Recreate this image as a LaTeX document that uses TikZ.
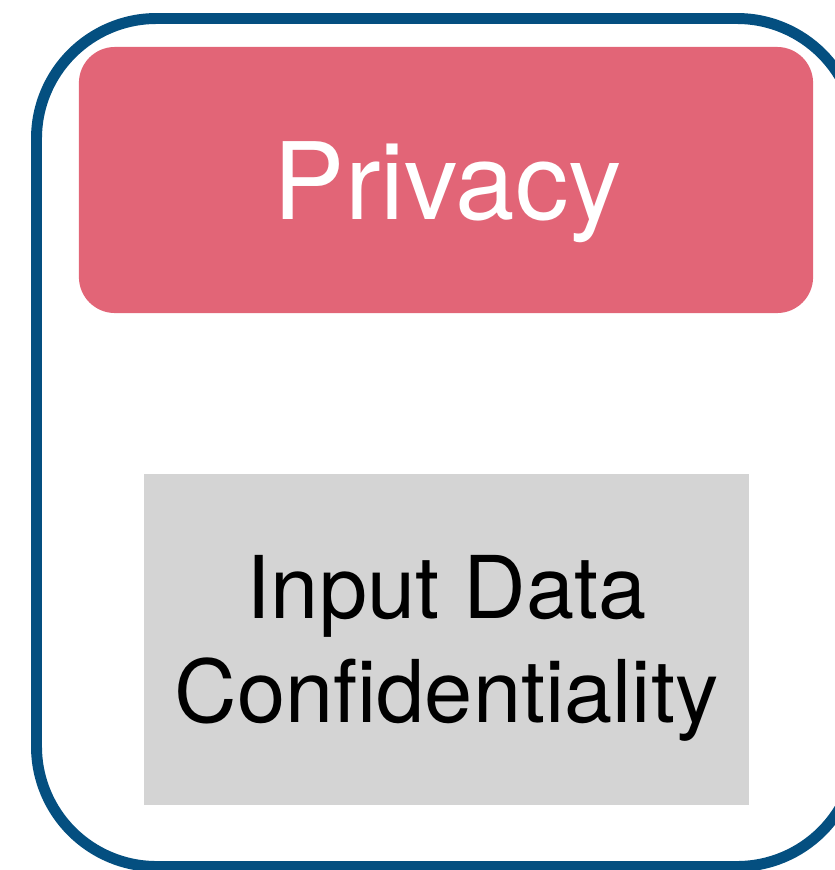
\documentclass[tikz,border=0pt]{standalone}
\usepackage{fontspec}
\setmainfont{TeX Gyre Heros}
\usetikzlibrary{positioning}
\definecolor{privblue}{RGB}{4,79,128}
\definecolor{privpink}{RGB}{226,101,119}
\definecolor{boxgray}{RGB}{212,212,212}

\begin{document}
\begin{tikzpicture}[x=0.025cm, y=-0.025cm]
		
		% fix the page to the reference size
		\useasboundingbox (0,0) rectangle (835,870);
		\clip (0,0) rectangle (835,870);
		
		% outer frame, it runs off the right edge
		\draw[privblue, line width=7.8pt, rounded corners=3cm] (36.5,18.5) rectangle (857,866.5);
		
		% the red heading
		\node (head) [fill=privpink, rounded corners=0.9cm, inner sep=0pt,
			minimum width=18.35cm, minimum height=6.65cm] at (446,180) {};
		\node (headtext) [anchor=base, text=white, inner sep=0pt,
			font=\fontsize{76}{76}\selectfont] at (448,219) {Privacy};
		
		% the grey box with its label (base is the last line)
		\node (prop) [fill=boxgray, inner sep=0pt,
			minimum width=15.125cm, minimum height=8.275cm] at (446.5,639.5) {};
		\node (proptext) [anchor=base, align=center, inner sep=0pt,
			font=\fontsize{61.6}{73.3}\selectfont] at (446.5,722) {Input Data\\Confidentiality};
		
	\end{tikzpicture}
\end{document}
